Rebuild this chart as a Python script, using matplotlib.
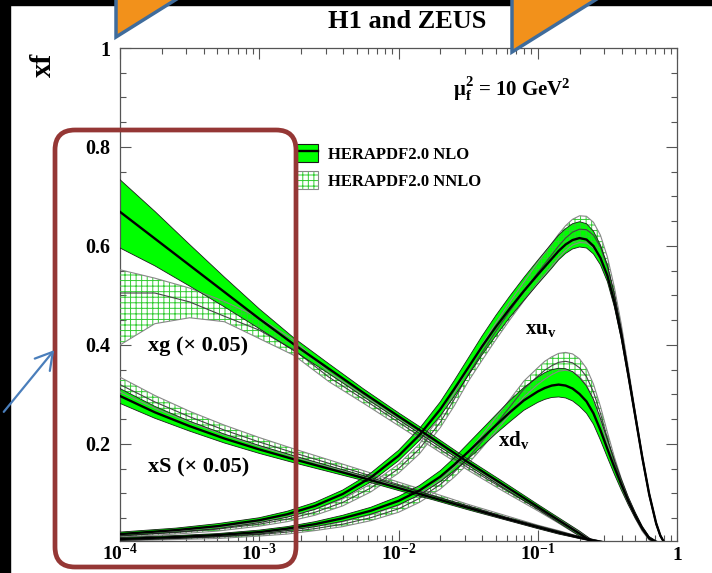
import numpy as np
import matplotlib
matplotlib.use("Agg")
import matplotlib.pyplot as plt
from matplotlib.patches import Patch, Rectangle, Polygon, FancyBboxPatch, FancyArrowPatch
from matplotlib.lines import Line2D
from matplotlib.ticker import MultipleLocator, LogLocator, NullFormatter
from matplotlib.transforms import ScaledTranslation

plt.rcParams['font.family'] = ['Liberation Serif', 'DejaVu Serif']
plt.rcParams['font.weight'] = 'bold'
plt.rcParams['mathtext.fontset'] = 'custom'
plt.rcParams['mathtext.rm'] = 'Liberation Serif:bold'
plt.rcParams['mathtext.it'] = 'Liberation Serif:bold'
plt.rcParams['mathtext.bf'] = 'Liberation Serif:bold'
plt.rcParams['mathtext.default'] = 'rm'
plt.rcParams['hatch.linewidth'] = 0.7

# ---- data (x given as log10 x) ----
# gluon and sea, both scaled by 0.05
xg_logx = [-4.0, -3.75, -3.5, -3.25, -3.0, -2.75, -2.5, -2.25, -2.0, -1.75, -1.5, -1.25, -1.0, -0.85, -0.7, -0.6]
xg_nlo = [0.669, 0.615, 0.561, 0.507, 0.453, 0.401, 0.352, 0.303, 0.256, 0.210, 0.163, 0.118, 0.073, 0.046, 0.019, 0.0]
xg_nlo_lo = [0.596, 0.560, 0.519, 0.477, 0.433, 0.388, 0.342, 0.295, 0.249, 0.203, 0.157, 0.112, 0.068, 0.041, 0.014, 0.0]
xg_nlo_hi = [0.734, 0.670, 0.603, 0.537, 0.473, 0.414, 0.362, 0.311, 0.263, 0.217, 0.169, 0.124, 0.078, 0.051, 0.024, 0.004]
xg_nnlo = [0.505, 0.505, 0.487, 0.458, 0.430, 0.390, 0.335, 0.290, 0.244, 0.198, 0.152, 0.110, 0.069, 0.044, 0.018, 0.0]
xg_nnlo_lo = [0.400, 0.443, 0.455, 0.447, 0.413, 0.379, 0.326, 0.282, 0.237, 0.192, 0.147, 0.105, 0.065, 0.040, 0.014, 0.0]
xg_nnlo_hi = [0.552, 0.535, 0.515, 0.488, 0.455, 0.410, 0.345, 0.298, 0.251, 0.204, 0.157, 0.115, 0.073, 0.048, 0.022, 0.004]

xs_logx = [-4.0, -3.75, -3.5, -3.25, -3.0, -2.75, -2.5, -2.25, -2.0, -1.75, -1.5, -1.25, -1.0, -0.85, -0.7, -0.6, -0.5]
xs_nlo = [0.297, 0.264, 0.236, 0.211, 0.189, 0.169, 0.150, 0.131, 0.111, 0.091, 0.071, 0.051, 0.032, 0.021, 0.011, 0.005, 0.0]
xs_nlo_err = [0.015, 0.012, 0.010, 0.009, 0.008, 0.007, 0.006, 0.005, 0.005, 0.004, 0.004, 0.003, 0.003, 0.003, 0.002, 0.002, 0.001]
xs_nnlo = [0.320, 0.285, 0.255, 0.228, 0.204, 0.182, 0.161, 0.140, 0.118, 0.096, 0.074, 0.053, 0.033, 0.022, 0.011, 0.005, 0.0]
xs_nnlo_err = [0.015, 0.013, 0.011, 0.010, 0.009, 0.008, 0.007, 0.006, 0.005, 0.005, 0.004, 0.004, 0.003, 0.003, 0.002, 0.002, 0.001]

# valence
val_logx = [-4.0, -3.6, -3.3, -3.0, -2.8, -2.6, -2.4, -2.2, -2.0, -1.85, -1.7, -1.6, -1.5,
            -1.4, -1.3, -1.2, -1.1, -1.0, -0.95, -0.9, -0.85, -0.8, -0.75,
            -0.7, -0.65, -0.6, -0.55, -0.5, -0.45, -0.4, -0.35, -0.3, -0.25,
            -0.2, -0.15, -0.12, -0.1]
xuv_nlo = [0.018, 0.026, 0.034, 0.046, 0.058, 0.075, 0.099, 0.132, 0.176, 0.218, 0.270, 0.311, 0.354,
           0.397, 0.437, 0.474, 0.509, 0.542, 0.558, 0.574, 0.590, 0.603, 0.612,
           0.616, 0.613, 0.600, 0.576, 0.540, 0.487, 0.420, 0.340, 0.257, 0.174,
           0.099, 0.040, 0.015, 0.005]
xuv_nlo_dn = [0.004, 0.004, 0.005, 0.005, 0.006, 0.007, 0.008, 0.009, 0.010, 0.011, 0.013, 0.015, 0.016,
              0.017, 0.018, 0.018, 0.019, 0.019, 0.019, 0.019, 0.018, 0.018, 0.018,
              0.018, 0.017, 0.016, 0.014, 0.012, 0.010, 0.008, 0.007, 0.006, 0.005,
              0.004, 0.003, 0.002, 0.001]
xuv_nlo_up = [0.004, 0.004, 0.005, 0.005, 0.006, 0.007, 0.008, 0.009, 0.011, 0.013, 0.015, 0.017, 0.019,
              0.021, 0.023, 0.025, 0.027, 0.029, 0.030, 0.031, 0.032, 0.032, 0.033,
              0.033, 0.032, 0.030, 0.026, 0.022, 0.017, 0.012, 0.009, 0.007, 0.005,
              0.004, 0.003, 0.002, 0.001]
xuv_nnlo = [0.015, 0.021, 0.028, 0.038, 0.048, 0.062, 0.082, 0.111, 0.150, 0.190, 0.244, 0.290, 0.340,
            0.385, 0.428, 0.469, 0.508, 0.546, 0.564, 0.582, 0.600, 0.616, 0.628,
            0.634, 0.633, 0.622, 0.598, 0.558, 0.501, 0.430, 0.346, 0.259, 0.174,
            0.098, 0.039, 0.015, 0.005]
xuv_nnlo_err = [0.003, 0.003, 0.004, 0.004, 0.005, 0.006, 0.007, 0.008, 0.009, 0.010, 0.011, 0.013, 0.014,
                0.016, 0.017, 0.018, 0.019, 0.021, 0.022, 0.023, 0.024, 0.025, 0.026,
                0.027, 0.027, 0.026, 0.024, 0.020, 0.016, 0.012, 0.009, 0.007, 0.005,
                0.004, 0.003, 0.002, 0.001]

xdv_nlo = [0.008, 0.012, 0.016, 0.022, 0.029, 0.038, 0.050, 0.065, 0.085, 0.106, 0.134, 0.158, 0.184,
           0.211, 0.238, 0.264, 0.288, 0.306, 0.313, 0.318, 0.320, 0.318, 0.312,
           0.301, 0.286, 0.262, 0.228, 0.190, 0.153, 0.118, 0.085, 0.056, 0.030,
           0.010, 0.002, 0.0, 0.0]
xdv_nlo_dn = [0.003, 0.003, 0.003, 0.004, 0.004, 0.005, 0.006, 0.007, 0.008, 0.009, 0.010, 0.012, 0.014,
              0.016, 0.017, 0.019, 0.020, 0.022, 0.023, 0.024, 0.025, 0.025, 0.025,
              0.025, 0.024, 0.022, 0.020, 0.017, 0.014, 0.011, 0.008, 0.006, 0.004,
              0.003, 0.002, 0.001, 0.0]
xdv_nlo_up = [0.003, 0.003, 0.003, 0.004, 0.004, 0.005, 0.006, 0.007, 0.009, 0.010, 0.012, 0.014, 0.017,
              0.019, 0.021, 0.024, 0.026, 0.029, 0.031, 0.032, 0.033, 0.034, 0.034,
              0.033, 0.031, 0.028, 0.024, 0.019, 0.015, 0.011, 0.008, 0.006, 0.004,
              0.003, 0.002, 0.001, 0.0]
xdv_nnlo = [0.006, 0.009, 0.012, 0.017, 0.022, 0.029, 0.038, 0.051, 0.069, 0.090, 0.118, 0.143, 0.172,
            0.205, 0.240, 0.275, 0.311, 0.337, 0.349, 0.358, 0.365, 0.367, 0.364,
            0.354, 0.336, 0.305, 0.262, 0.212, 0.164, 0.122, 0.086, 0.055, 0.028,
            0.009, 0.002, 0.0, 0.0]
xdv_nnlo_err = [0.002, 0.002, 0.003, 0.003, 0.004, 0.004, 0.005, 0.006, 0.007, 0.008, 0.009, 0.010, 0.012,
                0.013, 0.014, 0.015, 0.016, 0.017, 0.018, 0.018, 0.018, 0.018, 0.018,
                0.018, 0.017, 0.016, 0.014, 0.012, 0.010, 0.008, 0.006, 0.005, 0.004,
                0.003, 0.002, 0.001, 0.0]

y_ticks = [0.2, 0.4, 0.6, 0.8, 1.0]
y_ticklabels = ['0.2', '0.4', '0.6', '0.8', '1']
x_ticks = [1e-4, 1e-3, 1e-2, 1e-1, 1.0]
x_ticklabels = ['$10^{-4}$', '$10^{-3}$', '$10^{-2}$', '$10^{-1}$', '1']

W, H = 712, 573
GREEN = '#00ff00'
HATCH_GREEN = '#33cc33'


def fpos(x, y):
    # pixel position (from top left) -> figure fraction
    return x / W, 1 - y / H


def nlo_band(ax, lx, c, lo, hi):
    x = 10 ** np.array(lx)
    ax.fill_between(x, lo, hi, facecolor=GREEN, edgecolor='none', zorder=2)
    ax.plot(x, lo, color='#1a1a1a', lw=0.6, zorder=4)
    ax.plot(x, hi, color='#1a1a1a', lw=0.6, zorder=4)
    ax.plot(x, c, color='black', lw=1.7, zorder=5)


def nnlo_band(ax, lx, c, lo, hi):
    x = 10 ** np.array(lx)
    ax.fill_between(x, lo, hi, facecolor='none', edgecolor=HATCH_GREEN, hatch='+++', lw=0, zorder=3)
    ax.plot(x, lo, color='#888888', lw=0.8, zorder=3.5)
    ax.plot(x, hi, color='#888888', lw=0.8, zorder=3.5)
    ax.plot(x, c, color='#444444', lw=0.8, zorder=3.5)


fig = plt.figure(figsize=(W / 100, H / 100), dpi=100)
fig.patch.set_facecolor('white')
ax = fig.add_axes([120 / W, (H - 540.5) / H, 557 / W, 492.5 / H])
ax.set_xscale('log')
ax.set_xlim(1e-4, 1)
ax.set_ylim(0.005, 1)

a = np.array
nlo_band(ax, xg_logx, xg_nlo, xg_nlo_lo, xg_nlo_hi)
nnlo_band(ax, xg_logx, xg_nnlo, xg_nnlo_lo, xg_nnlo_hi)
nlo_band(ax, xs_logx, xs_nlo, a(xs_nlo) - a(xs_nlo_err), a(xs_nlo) + a(xs_nlo_err))
nnlo_band(ax, xs_logx, xs_nnlo, a(xs_nnlo) - a(xs_nnlo_err), a(xs_nnlo) + a(xs_nnlo_err))
nlo_band(ax, val_logx, xuv_nlo, a(xuv_nlo) - a(xuv_nlo_dn), a(xuv_nlo) + a(xuv_nlo_up))
nnlo_band(ax, val_logx, xuv_nnlo, a(xuv_nnlo) - a(xuv_nnlo_err), a(xuv_nnlo) + a(xuv_nnlo_err))
nlo_band(ax, val_logx, xdv_nlo, a(xdv_nlo) - a(xdv_nlo_dn), a(xdv_nlo) + a(xdv_nlo_up))
nnlo_band(ax, val_logx, xdv_nnlo, a(xdv_nnlo) - a(xdv_nnlo_err), a(xdv_nnlo) + a(xdv_nnlo_err))

# axes style
for sp in ax.spines.values():
    sp.set_color('#555555')
    sp.set_linewidth(0.9)
ax.set_yticks(y_ticks)
ax.set_yticklabels(y_ticklabels)
ax.yaxis.set_minor_locator(MultipleLocator(0.05))
ax.set_xticks(x_ticks)
ax.xaxis.set_minor_locator(LogLocator(base=10, subs=np.arange(2, 10), numticks=20))
ax.xaxis.set_minor_formatter(NullFormatter())
ax.tick_params(which='both', direction='in', top=True, right=True, color='#555555', width=0.8)
ax.tick_params(which='major', length=8)
ax.tick_params(which='minor', length=4)
ax.tick_params(axis='y', labelsize=14.5, pad=7)
ax.tick_params(axis='x', labelbottom=False)
lab_tr = ax.get_xaxis_transform() + ScaledTranslation(0, -0.195, fig.dpi_scale_trans)
for xv, lab in zip(x_ticks, x_ticklabels):
    ax.text(xv, 0, lab, transform=lab_tr, ha='center', va='baseline', fontsize=14, clip_on=False)

# annotations
fig.text(*fpos(407, 22), 'H1 and ZEUS', ha='center', va='center', fontsize=19)
fig.text(*fpos(43, 65), 'xf', rotation=90, ha='center', va='center', fontsize=21)
fig.text(*fpos(453, 89), r'$\mu_f^2$ = 10 GeV$^2$', ha='left', va='center', fontsize=15)
fig.text(*fpos(148, 346), 'xg (× 0.05)', ha='left', va='center', fontsize=16)
fig.text(*fpos(148, 467), 'xS (× 0.05)', ha='left', va='center', fontsize=16)
fig.text(*fpos(525, 329), '$xu_v$', ha='left', va='center', fontsize=15)
fig.text(*fpos(498, 440), '$xd_v$', ha='left', va='center', fontsize=15)

# legend
h_nlo = (Patch(facecolor=GREEN, edgecolor='#1a1a1a', lw=0.8), Line2D([], [], color='black', lw=1.7))
h_nnlo = (Patch(facecolor='white', edgecolor=HATCH_GREEN, hatch='+++', lw=0),
          Patch(facecolor='none', edgecolor='#888888', lw=0.8))
fig.legend([h_nlo, h_nnlo], ['HERAPDF2.0 NLO', 'HERAPDF2.0 NNLO'], loc='upper left',
           bbox_to_anchor=fpos(296, 144), frameon=False, fontsize=12,
           handlelength=1.3, handleheight=1.3, handletextpad=0.65, labelspacing=0.5,
           borderpad=0, borderaxespad=0)

# slide decorations
fig.add_artist(Rectangle((0, 0), 10 / W, 1, transform=fig.transFigure, color='black', zorder=10))
fig.add_artist(Rectangle((0, 1 - 5 / H), 1, 5 / H, transform=fig.transFigure, color='black', zorder=10))
for pts in ([(116, -3), (116, 37), (180, -3)], [(512, -3), (512, 52), (600, -3)]):
    fig.add_artist(Polygon([fpos(*p) for p in pts], closed=True, transform=fig.transFigure,
                           facecolor='#f2911b', edgecolor='#3f6c9c', lw=2.5, zorder=11))
fig.add_artist(FancyBboxPatch((55 / 100, (H - 567) / 100), (296 - 55) / 100, (567 - 130) / 100,
                              boxstyle='round,pad=0,rounding_size=0.2', transform=fig.dpi_scale_trans,
                              fill=False, edgecolor='#953735', lw=3.4, zorder=12))
fig.add_artist(FancyArrowPatch((2 / 100, (H - 414) / 100), (56 / 100, (H - 348) / 100),
                               transform=fig.dpi_scale_trans, arrowstyle='->,head_length=0.6,head_width=0.35',
                               mutation_scale=20, color='#4a7ebb', lw=1.6, zorder=12))

fig.savefig('out.png', dpi=100)
